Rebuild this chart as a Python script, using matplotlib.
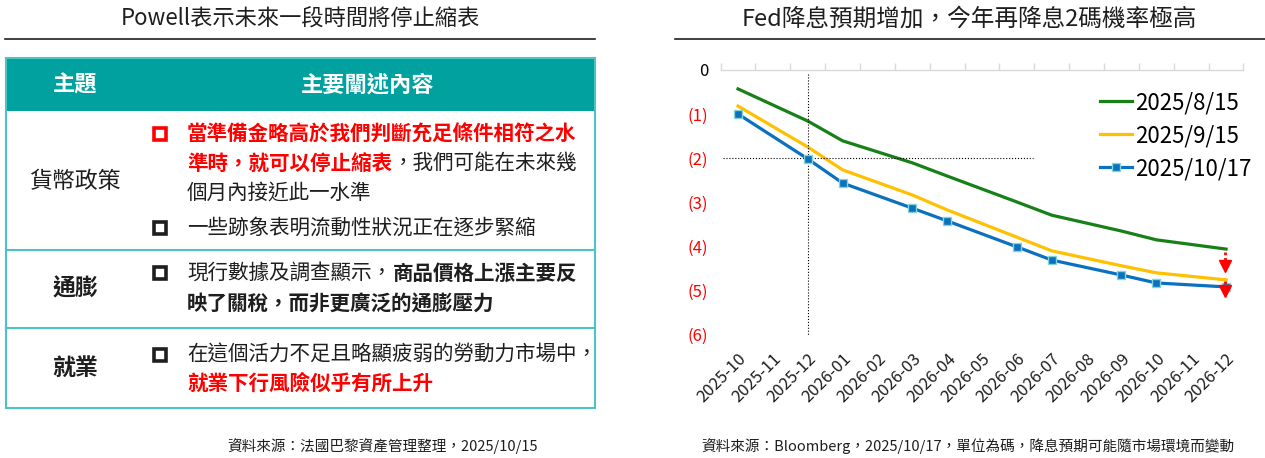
import matplotlib
matplotlib.use('Agg')
import matplotlib.pyplot as plt
from matplotlib.patches import Rectangle
import pandas as pd
import numpy as np

plt.rcParams['font.family'] = ['Noto Sans CJK TC', 'DejaVu Sans']

# ---- data ----
left_title = 'Powell表示未來一段時間將停止縮表'
right_title = 'Fed降息預期增加，今年再降息2碼機率極高'
header_labels = ['主題', '主要闡述內容']
row_topics = ['貨幣政策', '通膨', '就業']
left_source = '資料來源：法國巴黎資產管理整理，2025/10/15'
right_source = '資料來源：Bloomberg，2025/10/17，單位為碼，降息預期可能隨市場環境而變動'

months = ['2025-10', '2025-11', '2025-12', '2026-01', '2026-02', '2026-03', '2026-04',
          '2026-05', '2026-06', '2026-07', '2026-08', '2026-09', '2026-10', '2026-11', '2026-12']
# cumulative cuts priced (in 25bp units), only FOMC months carry a value
cuts_0815 = [-0.43, None, -1.16, -1.61, None, -2.11, -2.41, None, -3.00, -3.30, None, -3.66, -3.86, None, -4.07]
cuts_0915 = [-0.82, None, -1.75, -2.27, None, -2.84, -3.18, None, -3.80, -4.11, None, -4.45, -4.61, None, -4.77]
cuts_1017 = [-1.00, None, -2.02, -2.57, None, -3.14, -3.43, None, -4.02, -4.32, None, -4.66, -4.84, None, -4.93]
series_labels = ['2025/8/15', '2025/9/15', '2025/10/17']
y_ticks = [0, -1, -2, -3, -4, -5, -6]
y_ticklabels = ['0', '(1)', '(2)', '(3)', '(4)', '(5)', '(6)']

RED = '#FF0000'
TEAL = '#00A19F'
TEAL_LIGHT = '#4DC3C3'
INK = '#1e1e1e'

W, H = 1265, 458
fig = plt.figure(figsize=(W / 100, H / 100), dpi=100)

# background axes in pixel coords for the text table
bg = fig.add_axes([0, 0, 1, 1])
bg.set_xlim(0, W)
bg.set_ylim(H, 0)
bg.axis('off')

# titles + rules
bg.text(300, 19, left_title, ha='center', va='center', fontsize=16, color=INK)
bg.text(969, 19, right_title, ha='center', va='center', fontsize=17, color=INK)
bg.plot([5, 595], [39, 39], color=INK, lw=1.2)
bg.plot([675, 1265], [39, 39], color=INK, lw=1.2)

# table frame
bg.add_patch(Rectangle((6, 58), 589, 53, facecolor=TEAL, edgecolor='none'))
bg.add_patch(Rectangle((6, 58), 589, 350, facecolor='none', edgecolor=TEAL_LIGHT, lw=1.5))
for yy in [250, 328]:
    bg.plot([6, 595], [yy, yy], color=TEAL_LIGHT, lw=1.5)

bg.text(75, 85, header_labels[0], ha='center', va='center', fontsize=16, color='white', weight='bold')
bg.text(368, 85, header_labels[1], ha='center', va='center', fontsize=16, color='white', weight='bold')

bg.text(75, 181, row_topics[0], ha='center', va='center', fontsize=16.5, color=INK)
bg.text(75, 289, row_topics[1], ha='center', va='center', fontsize=16.5, color=INK, weight='bold')
bg.text(75, 368, row_topics[2], ha='center', va='center', fontsize=16.5, color=INK, weight='bold')

FS = 14.8
CH = FS * 100 / 72  # width of one CJK glyph in px


def rich_line(y, parts):
    x = 187
    for txt, col, wt in parts:
        bg.text(x, y, txt, ha='left', va='center', fontsize=FS, color=col, weight=wt)
        x += len(txt) * CH


def bullet(y, col):
    bg.plot(160, y, marker='s', ms=8.5, mfc='white', mec=col, mew=2.6)


bullet(134, RED)
rich_line(134, [('當準備金略高於我們判斷充足條件相符之水', RED, 'bold')])
rich_line(163, [('準時，就可以停止縮表', RED, 'bold'), ('，我們可能在未來幾', INK, 'normal')])
rich_line(193, [('個月內接近此一水準', INK, 'normal')])
bullet(228, INK)
rich_line(228, [('一些跡象表明流動性狀況正在逐步緊縮', INK, 'normal')])

bullet(273, INK)
rich_line(273, [('現行數據及調查顯示，', INK, 'normal'), ('商品價格上漲主要反', INK, 'bold')])
rich_line(304, [('映了關稅，而非更廣泛的通膨壓力', INK, 'bold')])

bullet(355, INK)
rich_line(355, [('在這個活力不足且略顯疲弱的勞動力市場中，', INK, 'normal')])
rich_line(383, [('就業下行風險似乎有所上升', RED, 'bold')])

bg.text(383, 446, left_source, ha='center', va='center', fontsize=10.5, color=INK)
bg.text(968, 446, right_source, ha='center', va='center', fontsize=10.5, color=INK)

# ---- line chart ----
ax_l, ax_r, ax_t, ax_b = 720.6, 1243.5, 70, 334
ax = fig.add_axes([ax_l / W, 1 - ax_b / H, (ax_r - ax_l) / W, (ax_b - ax_t) / H])
ax.patch.set_alpha(0)

x = np.arange(len(months))
df = pd.DataFrame({'m': months, 's1': cuts_0815, 's2': cuts_0915, 's3': cuts_1017}, index=x)

colors = ['#178017', '#FFC000', '#0A70C0']
for col, c, lab in zip(['s1', 's2', 's3'], colors, series_labels):
    s = df[col].dropna()
    if col == 's3':
        ax.plot(s.index, s.values, color=c, lw=2.3, label=lab, marker='s', ms=5.5,
                mfc='#0A70C0', mec='#86D3D3', mew=1, zorder=3)
    else:
        ax.plot(s.index, s.values, color=c, lw=2.3, label=lab, zorder=2)

ax.set_xlim(-0.5, len(months) - 0.5)
ax.set_ylim(-6, 0)

# dotted cross-hair on 2025-12 / 2 cuts
ax.plot([2, 2], [-0.1, -6.05], color='black', lw=0.8, ls=':', clip_on=False)
ax.plot([-0.43, 8.45], [-2, -2], color='black', lw=0.8, ls=':')

# red dotted arrows showing the shift on 2026-12
ax_x = len(months) - 1 - 0.03
for y0, yh in [(df['s1'].iloc[-1] - 0.07, df['s2'].iloc[-1] + 0.32),
               (df['s2'].iloc[-1] - 0.03, df['s3'].iloc[-1] - 0.09)]:
    ax.plot([ax_x, ax_x], [y0, yh], color=RED, lw=2, ls=(0, (1, 1)), zorder=4)
    ax.plot(ax_x, yh, marker='v', ms=9, color=RED, mec=RED, zorder=5, clip_on=False)

for sp in ['left', 'right', 'bottom']:
    ax.spines[sp].set_visible(False)
ax.spines['top'].set_color('#D9D9D9')
ax.spines['top'].set_linewidth(1)

ax.set_yticks(y_ticks)
ax.set_yticklabels(y_ticklabels, fontsize=12)
for i, t in enumerate(ax.get_yticklabels()):
    t.set_color('black' if i == 0 else RED)
ax.tick_params(axis='y', length=0, pad=9)

ax.set_xticks(x)
ax.set_xticklabels(months, fontsize=12, rotation=45, ha='right', va='top', rotation_mode='anchor')
ax.tick_params(axis='x', which='major', length=0, pad=12, top=False, bottom=True, labelcolor=INK)
ax.set_xticks(np.arange(len(months) + 1) - 0.5, minor=True)
ax.tick_params(axis='x', which='minor', top=True, bottom=False, direction='out', length=5,
               color='#D9D9D9', width=1)

ax.legend(loc='upper left', bbox_to_anchor=(0.7256, 0.92), frameon=False, fontsize=16,
          handlelength=1.45, handletextpad=0.15, labelspacing=0.45, borderpad=0,
          borderaxespad=0)

plt.savefig('out.png', dpi=100)
